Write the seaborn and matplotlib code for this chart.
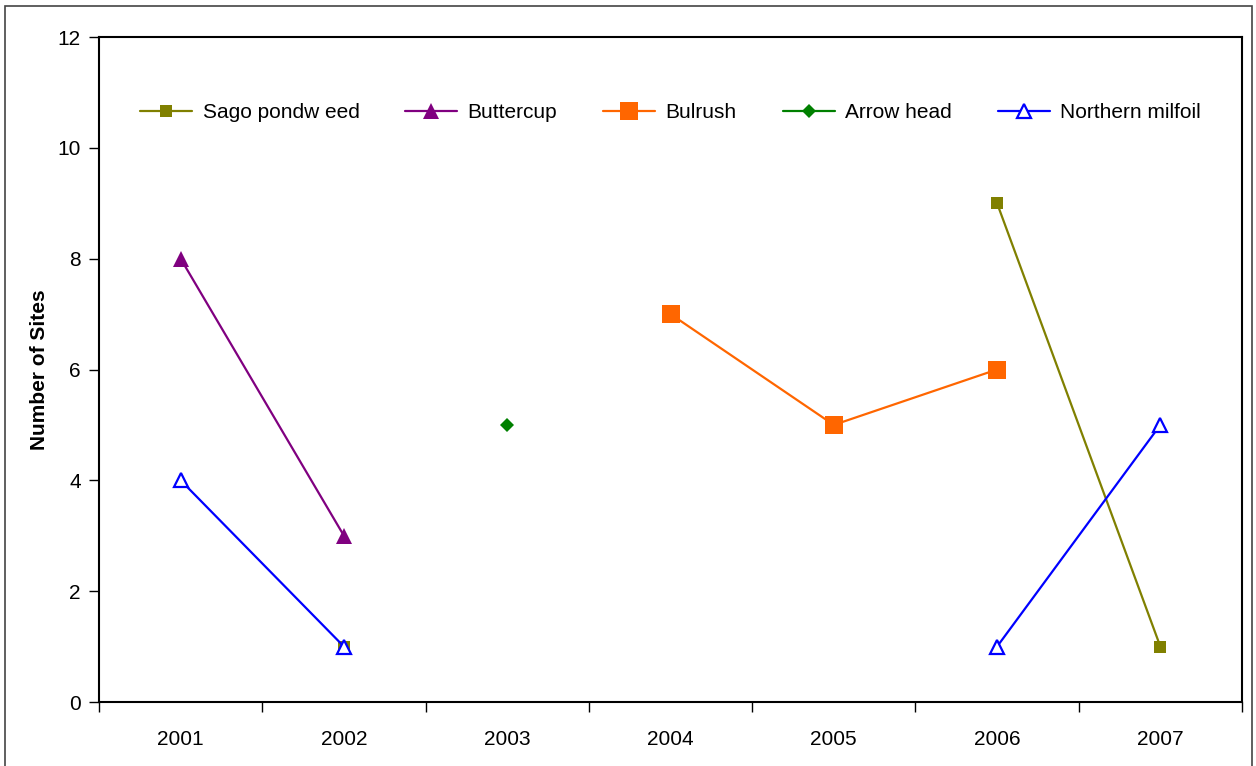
import numpy as np
import pandas as pd
import matplotlib
matplotlib.use("Agg")
import matplotlib.pyplot as plt
import seaborn as sns
from matplotlib.patches import Rectangle
from matplotlib.lines import Line2D

years = ["2001", "2002", "2003", "2004", "2005", "2006", "2007"]

sago_pondweed = [np.nan, 1, np.nan, np.nan, np.nan, 9, 1]
buttercup = [8, 3, np.nan, np.nan, np.nan, np.nan, np.nan]
bulrush = [np.nan, np.nan, np.nan, 7, 5, 6, np.nan]
arrow_head = [np.nan, np.nan, 5, np.nan, np.nan, np.nan, np.nan]
northern_milfoil = [4, 1, np.nan, np.nan, np.nan, 1, 5]

series = [
    ("Sago pondw eed", sago_pondweed, dict(color="#808000", marker="s", ms=8.5, mfc="#808000", mew=0)),
    ("Buttercup", buttercup, dict(color="#800080", marker="^", ms=11, mfc="#800080", mew=0)),
    ("Bulrush", bulrush, dict(color="#FF6600", marker="s", ms=13, mfc="#FF6600", mew=0)),
    ("Arrow head", arrow_head, dict(color="#008000", marker="D", ms=7.5, mfc="#008000", mew=0)),
    ("Northern milfoil", northern_milfoil, dict(color="#0000FF", marker="^", ms=10, mfc="white", mew=1.6)),
]

sns.set_theme(style="white")
plt.rcParams["font.family"] = ["Liberation Sans", "DejaVu Sans"]
plt.rcParams["text.color"] = "black"
plt.rcParams["axes.labelcolor"] = "black"
plt.rcParams["xtick.color"] = "black"
plt.rcParams["ytick.color"] = "black"

fig = plt.figure(figsize=(12.56, 7.66), dpi=100)
ax = fig.add_axes([99 / 1256, 64 / 766, (1242 - 99) / 1256, (702 - 37) / 766])

handles = []
for name, vals, st in series:
    df = pd.DataFrame({"x": np.arange(len(years)), "y": vals})
    # break the line wherever a year has no value
    df["seg"] = df["y"].isna().cumsum()
    df = df.dropna()
    sns.lineplot(data=df, x="x", y="y", units="seg", estimator=None, sort=False,
                 ax=ax, color=st["color"], lw=1.6, marker=st["marker"],
                 markersize=st["ms"], markerfacecolor=st["mfc"],
                 markeredgecolor=st["color"], markeredgewidth=st["mew"],
                 legend=False, zorder=3)
    handles.append(Line2D([], [], color=st["color"], lw=1.6, marker=st["marker"],
                          markersize=st["ms"], markerfacecolor=st["mfc"],
                          markeredgecolor=st["color"], markeredgewidth=st["mew"],
                          label=name))

ax.set_xlim(-0.5, 6.5)
ax.set_ylim(0, 12)
ax.set_yticks(np.arange(0, 13, 2))
ax.set_xticks(np.arange(-0.5, 7, 1))
ax.set_xticklabels([])
ax.set_xticks(np.arange(7), labels=years, minor=True)
ax.tick_params(axis="x", which="major", direction="out", length=7, width=1, color="black", bottom=True)
ax.tick_params(axis="x", which="minor", length=0, labelsize=15, pad=20, bottom=True, labelcolor="black")
ax.tick_params(axis="y", direction="out", length=7, width=1, color="black", labelsize=15, left=True, pad=6,
               labelcolor="black")
ax.set_xlabel("")
ax.set_ylabel("Number of Sites", fontsize=15, fontweight="bold", labelpad=6, color="black")
for sp in ax.spines.values():
    sp.set_color("black")
    sp.set_linewidth(1.5)
ax.grid(False)

leg = ax.legend(handles=handles, loc="center", bbox_to_anchor=(0.5, 0.8865), ncol=5,
                frameon=False, fontsize=15, handlelength=2.5, columnspacing=2.2, handletextpad=0.5)
for t in leg.get_texts():
    t.set_color("black")

fig.patches.append(Rectangle((5 / 1256, -10 / 766), 1247 / 1256, 770 / 766, transform=fig.transFigure,
                             fill=False, edgecolor="#444444", lw=1.2))

fig.savefig("out.png", dpi=100)
